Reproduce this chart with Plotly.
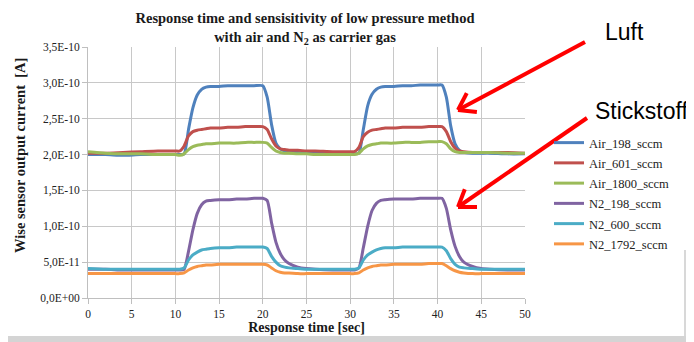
import numpy as np
import plotly.graph_objects as go

# ---- data (values in units of 1e-10 A) ----
time_s = [0, 2, 4, 6, 8, 10, 10.5, 11, 11.5, 12, 12.5, 13, 13.5, 14, 15, 16, 17, 18, 19, 20,
          20.5, 21, 21.5, 22, 22.5, 23, 24, 25, 26, 28, 30, 30.5, 31, 31.5, 32, 32.5, 33, 33.5,
          34, 35, 36, 37, 38, 39, 40, 40.5, 41, 41.5, 42, 42.5, 43, 44, 45, 46, 48, 50]

air_198 = [2.00, 2.00, 1.99, 2.00, 2.00, 2.00, 2.00, 2.01, 2.35, 2.65, 2.83, 2.91, 2.94, 2.95, 2.95, 2.96, 2.96, 2.96, 2.96, 2.96,
           2.80, 2.42, 2.16, 2.08, 2.05, 2.04, 2.03, 2.02, 2.02, 2.02, 2.01, 2.01, 2.02, 2.35, 2.68, 2.84, 2.91, 2.94,
           2.95, 2.95, 2.96, 2.96, 2.97, 2.97, 2.97, 2.97, 2.80, 2.40, 2.15, 2.06, 2.03, 2.02, 2.02, 2.02, 2.01, 2.01]
air_601 = [2.02, 2.02, 2.03, 2.04, 2.05, 2.05, 2.05, 2.12, 2.26, 2.32, 2.34, 2.35, 2.36, 2.37, 2.37, 2.38, 2.38, 2.39, 2.39, 2.39,
           2.35, 2.22, 2.12, 2.08, 2.07, 2.06, 2.06, 2.05, 2.05, 2.04, 2.04, 2.04, 2.10, 2.25, 2.31, 2.34, 2.35, 2.36,
           2.37, 2.37, 2.38, 2.38, 2.38, 2.39, 2.39, 2.39, 2.32, 2.18, 2.09, 2.05, 2.04, 2.03, 2.03, 2.03, 2.03, 2.02]
air_1800 = [2.04, 2.02, 2.01, 2.01, 2.00, 2.00, 1.99, 2.01, 2.07, 2.11, 2.13, 2.14, 2.15, 2.15, 2.16, 2.16, 2.16, 2.17, 2.17, 2.17,
            2.16, 2.10, 2.05, 2.03, 2.02, 2.02, 2.01, 2.01, 2.00, 2.00, 2.00, 2.00, 2.02, 2.08, 2.12, 2.14, 2.15, 2.16,
            2.16, 2.16, 2.17, 2.17, 2.17, 2.18, 2.18, 2.18, 2.15, 2.08, 2.04, 2.03, 2.03, 2.03, 2.03, 2.03, 2.02, 2.02]
n2_198 = [0.40, 0.40, 0.39, 0.39, 0.39, 0.39, 0.39, 0.40, 0.65, 0.95, 1.18, 1.30, 1.35, 1.36, 1.37, 1.37, 1.38, 1.38, 1.39, 1.39,
          1.36, 1.05, 0.78, 0.62, 0.53, 0.48, 0.43, 0.41, 0.40, 0.39, 0.39, 0.39, 0.42, 0.70, 1.00, 1.22, 1.32, 1.36,
          1.37, 1.38, 1.38, 1.38, 1.39, 1.39, 1.39, 1.39, 1.25, 0.95, 0.72, 0.58, 0.50, 0.44, 0.41, 0.40, 0.39, 0.39]
n2_600 = [0.41, 0.40, 0.40, 0.40, 0.40, 0.40, 0.40, 0.42, 0.53, 0.60, 0.64, 0.67, 0.68, 0.69, 0.70, 0.70, 0.71, 0.71, 0.71, 0.71,
          0.69, 0.58, 0.50, 0.45, 0.43, 0.42, 0.41, 0.40, 0.40, 0.40, 0.40, 0.40, 0.42, 0.53, 0.60, 0.64, 0.67, 0.69,
          0.70, 0.70, 0.71, 0.71, 0.71, 0.71, 0.71, 0.71, 0.66, 0.55, 0.47, 0.43, 0.42, 0.41, 0.40, 0.40, 0.40, 0.40]
n2_1792 = [0.34, 0.34, 0.34, 0.34, 0.34, 0.34, 0.34, 0.35, 0.39, 0.42, 0.44, 0.45, 0.46, 0.46, 0.47, 0.47, 0.47, 0.47, 0.47, 0.47,
           0.46, 0.42, 0.38, 0.36, 0.35, 0.35, 0.34, 0.34, 0.34, 0.34, 0.34, 0.34, 0.35, 0.39, 0.42, 0.44, 0.45, 0.46,
           0.46, 0.47, 0.47, 0.47, 0.47, 0.48, 0.48, 0.48, 0.45, 0.41, 0.38, 0.36, 0.35, 0.34, 0.34, 0.34, 0.34, 0.34]

series_names = ["Air_198_sccm", "Air_601_sccm", "Air_1800_sccm", "N2_198_sccm", "N2_600_sccm", "N2_1792_sccm"]
series_values = [air_198, air_601, air_1800, n2_198, n2_600, n2_1792]
series_colors = ["#4F81BD", "#C0504D", "#9BBB59", "#8064A2", "#4BACC6", "#F79646"]

y_tick_vals = [0, 0.5e-10, 1.0e-10, 1.5e-10, 2.0e-10, 2.5e-10, 3.0e-10, 3.5e-10]
y_tick_text = ["0,0E+00", "5,0E-11", "1,0E-10", "1,5E-10", "2,0E-10", "2,5E-10", "3,0E-10", "3,5E-10"]
x_tick_vals = [0, 5, 10, 15, 20, 25, 30, 35, 40, 45, 50]

SERIF = "Liberation Serif"
OFF = 8                      # page body margin of the written HTML
W, H = 694 - OFF, 342 - OFF
L, R, T, B = 88 - OFF, W - (525 - OFF), 47 - OFF, H - (298 - OFF)

fig = go.Figure()
for i, (name, vals, col) in enumerate(zip(series_names, series_values, series_colors)):
    fig.add_trace(go.Scatter(
        x=time_s, y=np.array(vals) * 1e-10, mode="lines", name=name, legendgroup=f"g{i}",
        line=dict(color=col, width=3, shape="spline", smoothing=0.6),
    ))

def px2paper(px, py):
    """page pixel -> paper coords"""
    fx, fy = px - OFF, py - OFF
    return (fx - L) / (W - L - R), (H - B - fy) / (H - T - B)

shapes = []
# slide-like grey edges (right and bottom)
for (x0, y0, x1, y1, c) in [(684, 250, 694, 342, "#d8d8d8"), (688, 280, 694, 342, "#c6c6c6"),
                             (0, 336, 694, 342, "#d4d4d4")]:
    a, b = px2paper(x0, y1)
    c2, d = px2paper(x1, y0)
    shapes.append(dict(type="rect", xref="paper", yref="paper", x0=a, y0=b, x1=c2, y1=d,
                       fillcolor=c, line=dict(width=0), layer="below"))

# red arrows (tail -> head), in page pixels
arrows = [((585, 42), (458, 110)), ((587, 118), (458, 207))]
for tail, head in arrows:
    tx, ty = px2paper(*tail)
    hx, hy = px2paper(*head)
    shapes.append(dict(type="line", xref="paper", yref="paper", x0=tx, y0=ty, x1=hx, y1=hy,
                       line=dict(color="#FF0000", width=4)))
    ang = np.arctan2(tail[1] - head[1], tail[0] - head[0])
    for d in (0.6, -0.6):
        ex = head[0] + 19 * np.cos(ang + d)
        ey = head[1] + 19 * np.sin(ang + d)
        a, b = px2paper(ex, ey)
        shapes.append(dict(type="line", xref="paper", yref="paper", x0=hx, y0=hy, x1=a, y1=b,
                           line=dict(color="#FF0000", width=4)))

annotations = []
for text, (rx, cy) in [("Luft", (646, 32)), ("Stickstoff", (690, 111))]:
    a, b = px2paper(rx, cy)
    annotations.append(dict(text=text, x=a, y=b, xref="paper", yref="paper", showarrow=False,
                            xanchor="right", yanchor="middle",
                            font=dict(family="Liberation Sans", size=23, color="#000000")))

# y axis title placed as in the reference (shifted above the axis centre)
ya, yb = px2paper(20, 156)
annotations.append(dict(text="<b>Wise sensor output current  [A]</b>", x=ya, y=yb, xref="paper", yref="paper",
                        showarrow=False, textangle=-90, xanchor="center", yanchor="middle",
                        font=dict(family=SERIF, size=14.5, color="#1a1a1a")))

lx, ly = px2paper(549, 128)

fig.update_layout(
    width=W, height=H,
    margin=dict(l=L, r=R, t=T, b=B, pad=0, autoexpand=False),
    paper_bgcolor="white", plot_bgcolor="white",
    title=dict(text="<b>Response time and sensisitivity of low pressure method<br>with air and N<sub>2</sub> as carrier gas</b>",
               x=(305 - OFF) / W, xanchor="center", y=1 - (23 - OFF) / H, yanchor="middle", automargin=False,
               font=dict(family=SERIF, size=14.5, color="#1a1a1a")),
    showlegend=True,
    legend=dict(x=lx, xanchor="left", y=ly, yanchor="top",
                font=dict(family=SERIF, size=12.5, color="#222222"),
                bgcolor="rgba(0,0,0,0)", tracegroupgap=1, itemwidth=30),
    shapes=shapes,
    annotations=annotations,
)
fig.update_xaxes(range=[0, 50], tickvals=x_tick_vals, showgrid=True, gridcolor="#c8c8c8", gridwidth=1,
                 showline=True, linecolor="#bfbfbf", ticks="outside", ticklen=5, tickcolor="#bfbfbf",
                 ticklabelstandoff=0,
                 zeroline=False, automargin=False, tickfont=dict(family=SERIF, size=11.5, color="#222222"),
                 title=dict(text="<b>Response time [sec]</b>", standoff=0,
                            font=dict(family=SERIF, size=14, color="#1a1a1a")))
fig.update_yaxes(range=[0, 3.5e-10], tickvals=y_tick_vals, ticktext=y_tick_text, showgrid=True,
                 gridcolor="#c8c8c8", gridwidth=1, showline=True, linecolor="#bfbfbf", ticks="outside",
                 ticklen=5, tickcolor="#bfbfbf", zeroline=False, automargin=False,
                 tickfont=dict(family=SERIF, size=11.5, color="#222222"))

fig.write_html("out.html")
